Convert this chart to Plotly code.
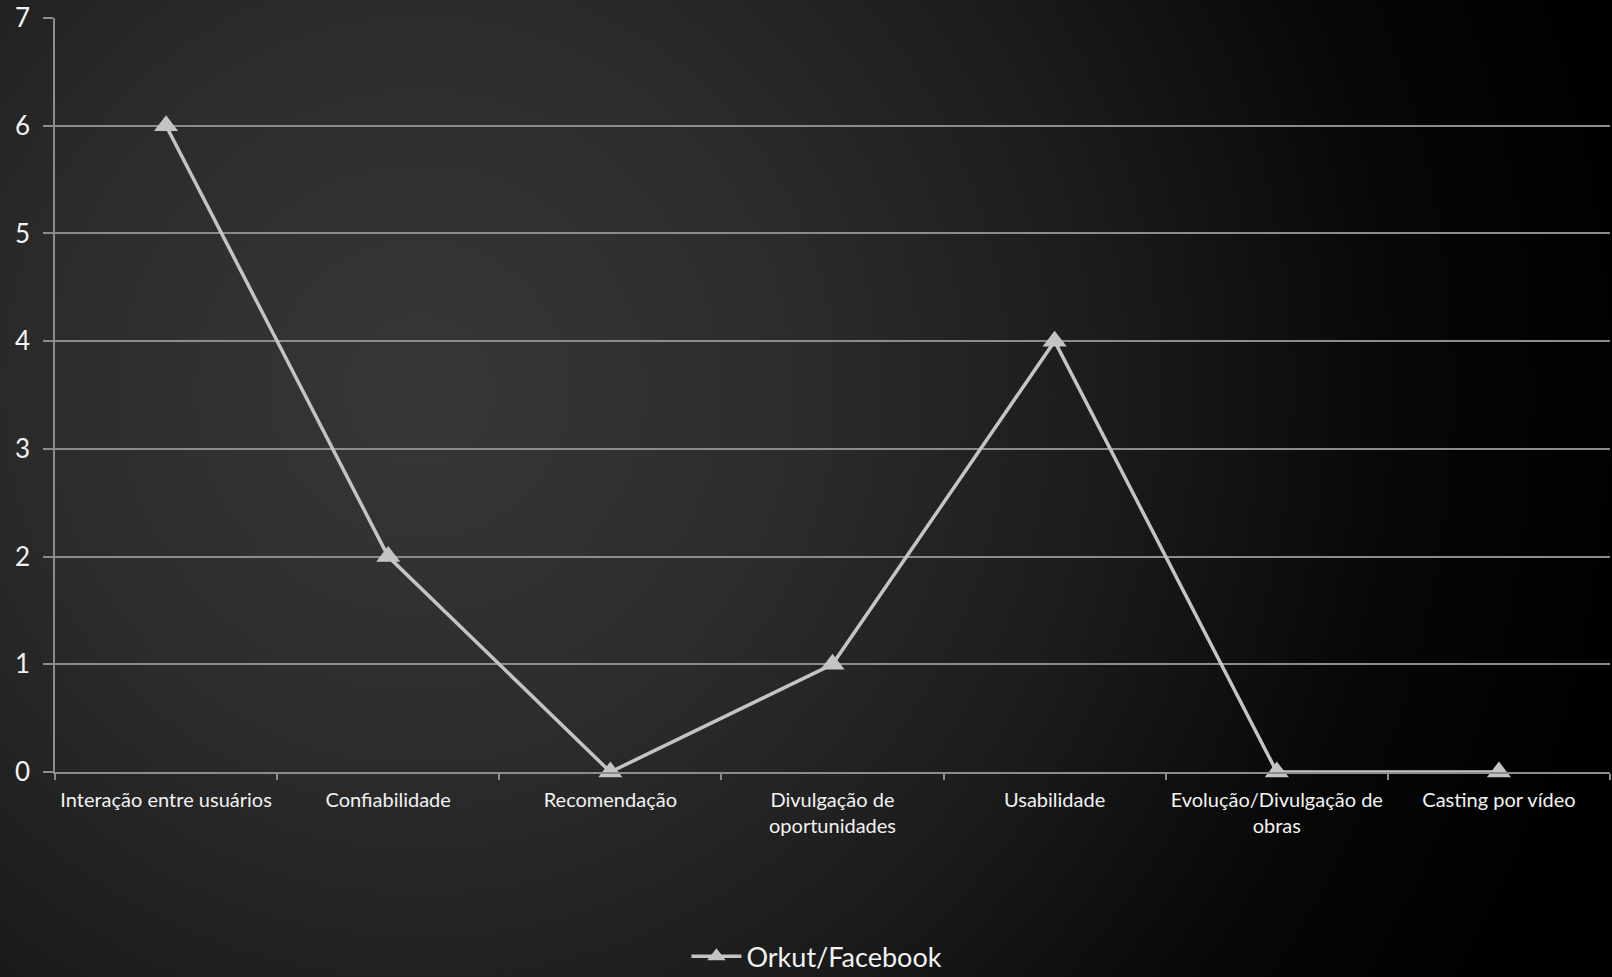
import plotly.graph_objects as go
import base64

categories = ["Interação entre usuários", "Confiabilidade", "Recomendação",
              "Divulgação de<br>oportunidades", "Usabilidade",
              "Evolução/Divulgação de<br>obras", "Casting por vídeo"]
values = [6, 2, 0, 1, 4, 0, 0]
series_name = "Orkut/Facebook"
y_ticks = [0, 1, 2, 3, 4, 5, 6, 7]

W, H = 1612, 977
svg = f'''<svg xmlns="http://www.w3.org/2000/svg" width="{W}" height="{H}" viewBox="0 0 {W} {H}">
<defs><radialGradient id="g" gradientUnits="userSpaceOnUse" cx="420" cy="390" r="1230">
<stop offset="0" stop-color="#373737"/>
<stop offset="0.3" stop-color="#2c2c2c"/>
<stop offset="0.55" stop-color="#1c1c1c"/>
<stop offset="0.8" stop-color="#070707"/>
<stop offset="1" stop-color="#000000"/>
</radialGradient></defs>
<rect width="{W}" height="{H}" fill="url(#g)"/></svg>'''
src = "data:image/svg+xml;base64," + base64.b64encode(svg.encode()).decode()

fig = go.Figure()
fig.add_trace(go.Scatter(
    x=categories, y=values, name=series_name, mode="lines+markers",
    line=dict(color="#c4c4c4", width=3.5),
    marker=dict(symbol="triangle-up", size=21, color="#c4c4c4"),
    cliponaxis=False,
))

fig.update_layout(
    width=W, height=H,
    margin=dict(l=55, r=2, t=18, b=205, autoexpand=False),
    paper_bgcolor="#000000", plot_bgcolor="rgba(0,0,0,0)",
    font=dict(family="Lato, 'Open Sans', sans-serif", color="#f2f2f2"),
    images=[dict(source=src, xref="paper", yref="paper", x=-55/1555, y=1+18/754,
                 sizex=W/1555, sizey=H/754, xanchor="left", yanchor="top",
                 sizing="stretch", layer="below")],
    showlegend=True,
    legend=dict(orientation="h", x=0.49, y=-0.245, xanchor="center", yanchor="middle",
                font=dict(size=27, color="#f2f2f2"), bgcolor="rgba(0,0,0,0)",
                itemwidth=50),
    xaxis=dict(type="category", tickson="boundaries", ticks="outside", ticklen=6,
               tickcolor="#8c8c8c", tickwidth=1.5, showgrid=False,
               showline=True, linecolor="#8c8c8c", linewidth=1.5,
               tickfont=dict(size=20, color="#f2f2f2"), range=[-0.5, 6.5],
               zeroline=False, ticklabelstandoff=9),
    yaxis=dict(range=[0, 7], tickvals=y_ticks, ticks="outside", ticklen=10,
               tickcolor="#8c8c8c", tickwidth=1.5, showgrid=True,
               gridcolor="#8c8c8c", gridwidth=1.5, showline=True,
               linecolor="#8c8c8c", linewidth=1.5, zeroline=False,
               tickfont=dict(size=26, color="#f2f2f2"), ticklabelstandoff=8),
)

fig.write_html("out.html", config={"displayModeBar": False},
               post_script="document.body.style.margin='0';document.body.style.background='#000';")
